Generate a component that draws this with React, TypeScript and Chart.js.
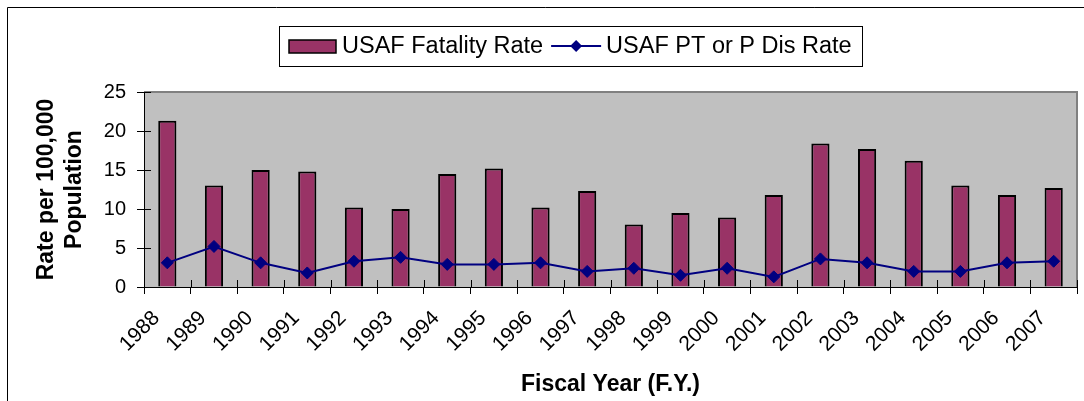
import React, { useEffect, useRef } from "react";
import { Chart, registerables } from "chart.js";

Chart.register(...registerables);

const categories = ["1988", "1989", "1990", "1991", "1992", "1993", "1994", "1995", "1996", "1997", "1998", "1999", "2000", "2001", "2002", "2003", "2004", "2005", "2006", "2007"];
const fatalityRate = [21.3, 13.0, 15.0, 14.8, 10.2, 10.0, 14.5, 15.2, 10.2, 12.3, 8.0, 9.5, 8.9, 11.8, 18.4, 17.7, 16.2, 13.0, 11.8, 12.7];
const ptDisRate = [3.1, 5.2, 3.1, 1.8, 3.3, 3.8, 2.9, 2.9, 3.1, 2.0, 2.4, 1.5, 2.4, 1.3, 3.6, 3.1, 2.0, 2.0, 3.1, 3.3];
const yMin = 0;
const yMax = 25;
const yStep = 5;
const seriesNames = ["USAF Fatality Rate", "USAF PT or P Dis Rate"];
const yTitle = ["Rate per 100,000", "Population"];
const xTitle = "Fiscal Year (F.Y.)";

const BAR_COLOR = "#993366";
const LINE_COLOR = "#000080";
const FONT = "'Liberation Sans', Arial, sans-serif";

const decorPlugin = {
  id: "decor",
  beforeDraw(chart: any) {
    const { ctx, chartArea: a } = chart;
    ctx.save();
    ctx.fillStyle = "#ffffff";
    ctx.fillRect(0, 0, chart.width, chart.height);
    // outer frame
    ctx.strokeStyle = "#000000";
    ctx.lineWidth = 1;
    ctx.beginPath();
    ctx.moveTo(7.5, chart.height);
    ctx.lineTo(7.5, 7.5);
    ctx.lineTo(chart.width, 7.5);
    ctx.stroke();
    // plot area
    ctx.fillStyle = "#C0C0C0";
    ctx.fillRect(a.left, a.top, a.right - a.left, a.bottom - a.top);
    ctx.strokeStyle = "#808080";
    ctx.lineWidth = 2;
    ctx.beginPath();
    ctx.moveTo(a.left, a.top);
    ctx.lineTo(a.right, a.top);
    ctx.lineTo(a.right, a.bottom);
    ctx.stroke();
    ctx.restore();
  },
  afterDraw(chart: any) {
    const { ctx, chartArea: a } = chart;
    const xs = chart.scales.x;
    const ys = chart.scales.y;
    ctx.save();
    // inner halves of cross tick marks
    ctx.strokeStyle = "#000000";
    ctx.lineWidth = 1;
    ctx.beginPath();
    const n = categories.length;
    const w = (xs.right - xs.left) / n;
    for (let k = 0; k <= n; k++) {
      const x = Math.round(xs.left + k * w) + 0.5;
      ctx.moveTo(x, a.bottom);
      ctx.lineTo(x, a.bottom - 7);
    }
    for (let v = yMin; v <= yMax; v += yStep) {
      const y = Math.round(ys.getPixelForValue(v)) + 0.5;
      ctx.moveTo(a.left, y);
      ctx.lineTo(a.left + 7, y);
    }
    ctx.stroke();

    // legend
    const bx = 279, by = 26, bw = 583, bh = 40;
    const cy = by + bh / 2;
    ctx.strokeStyle = "#000000";
    ctx.lineWidth = 1;
    ctx.strokeRect(bx + 0.5, by + 0.5, bw, bh);
    ctx.font = `23.5px ${FONT}`;
    ctx.textBaseline = "middle";
    ctx.textAlign = "left";
    // bar sample
    ctx.fillStyle = BAR_COLOR;
    ctx.fillRect(289, cy - 6, 47, 13);
    ctx.lineWidth = 1.5;
    ctx.strokeRect(289, cy - 6, 47, 13);
    ctx.fillStyle = "#000000";
    const t1x = 342;
    ctx.fillText(chart.data.datasets[1].label, t1x, cy + 1);
    const t1w = ctx.measureText(chart.data.datasets[1].label).width;
    const lx0 = t1x + t1w + 8;
    const lx1 = lx0 + 50;
    ctx.strokeStyle = LINE_COLOR;
    ctx.lineWidth = 2;
    ctx.beginPath();
    ctx.moveTo(lx0, cy);
    ctx.lineTo(lx1, cy);
    ctx.stroke();
    const mx = (lx0 + lx1) / 2;
    ctx.fillStyle = LINE_COLOR;
    ctx.beginPath();
    ctx.moveTo(mx - 6, cy);
    ctx.lineTo(mx, cy - 6);
    ctx.lineTo(mx + 6, cy);
    ctx.lineTo(mx, cy + 6);
    ctx.closePath();
    ctx.fill();
    ctx.fillStyle = "#000000";
    ctx.fillText(chart.data.datasets[0].label, lx1 + 5, cy + 1);
    ctx.restore();
  },
};

export default function App() {
  const canvasRef = useRef<HTMLCanvasElement | null>(null);

  useEffect(() => {
    const canvas = canvasRef.current;
    if (!canvas) return;
    const chart = new Chart(canvas, {
      type: "bar",
      data: {
        labels: categories,
        datasets: [
          {
            type: "line",
            label: seriesNames[1],
            data: ptDisRate,
            borderColor: LINE_COLOR,
            backgroundColor: LINE_COLOR,
            borderWidth: 2,
            pointStyle: "rectRot",
            pointRadius: 6,
            pointBackgroundColor: LINE_COLOR,
            pointBorderColor: LINE_COLOR,
            pointBorderWidth: 1,
            tension: 0,
            order: 0,
          } as any,
          {
            type: "bar",
            label: seriesNames[0],
            data: fatalityRate,
            backgroundColor: BAR_COLOR,
            borderColor: "#000000",
            borderWidth: 2,
            barPercentage: 0.39,
            categoryPercentage: 1,
            order: 1,
          } as any,
        ],
      },
      options: {
        responsive: true,
        maintainAspectRatio: false,
        animation: false,
        layout: { padding: { left: 0, right: 7, top: 92, bottom: 0 } },
        plugins: {
          legend: { display: false },
          title: { display: false },
          tooltip: { enabled: false },
        },
        scales: {
          x: {
            type: "category",
            offset: true,
            grid: {
              offset: true,
              drawOnChartArea: false,
              drawTicks: true,
              tickLength: 7,
              color: "#000000",
            },
            border: { display: true, color: "#000000", width: 1 },
            ticks: {
              autoSkip: false,
              minRotation: 45,
              maxRotation: 45,
              padding: 12,
              labelOffset: -11,
              color: "#000000",
              font: { family: FONT, size: 21 },
            },
            title: {
              display: true,
              text: xTitle,
              color: "#000000",
              font: { family: FONT, size: 23, weight: "bold" },
              padding: { top: 0, bottom: 3 },
            },
            afterFit(scale: any) {
              scale.height = 114;
            },
          },
          y: {
            min: yMin,
            max: yMax,
            grid: {
              drawOnChartArea: false,
              drawTicks: true,
              tickLength: 7,
              color: "#000000",
            },
            border: { display: true, color: "#000000", width: 1 },
            ticks: {
              stepSize: yStep,
              padding: 11,
              color: "#000000",
              font: { family: FONT, size: 20 },
            },
            title: {
              display: true,
              text: yTitle,
              color: "#000000",
              font: { family: FONT, size: 23, weight: "bold", lineHeight: 1.22 },
              padding: { top: 33, bottom: 0 },
            },
            afterFit(scale: any) {
              scale.width = 144;
            },
          },
        },
      } as any,
      plugins: [decorPlugin],
    });
    return () => chart.destroy();
  }, []);

  return (
    <div style={{ position: "fixed", left: 0, top: 0, width: 1084, height: 401, background: "#fff" }}>
      <canvas ref={canvasRef} />
    </div>
  );
}
